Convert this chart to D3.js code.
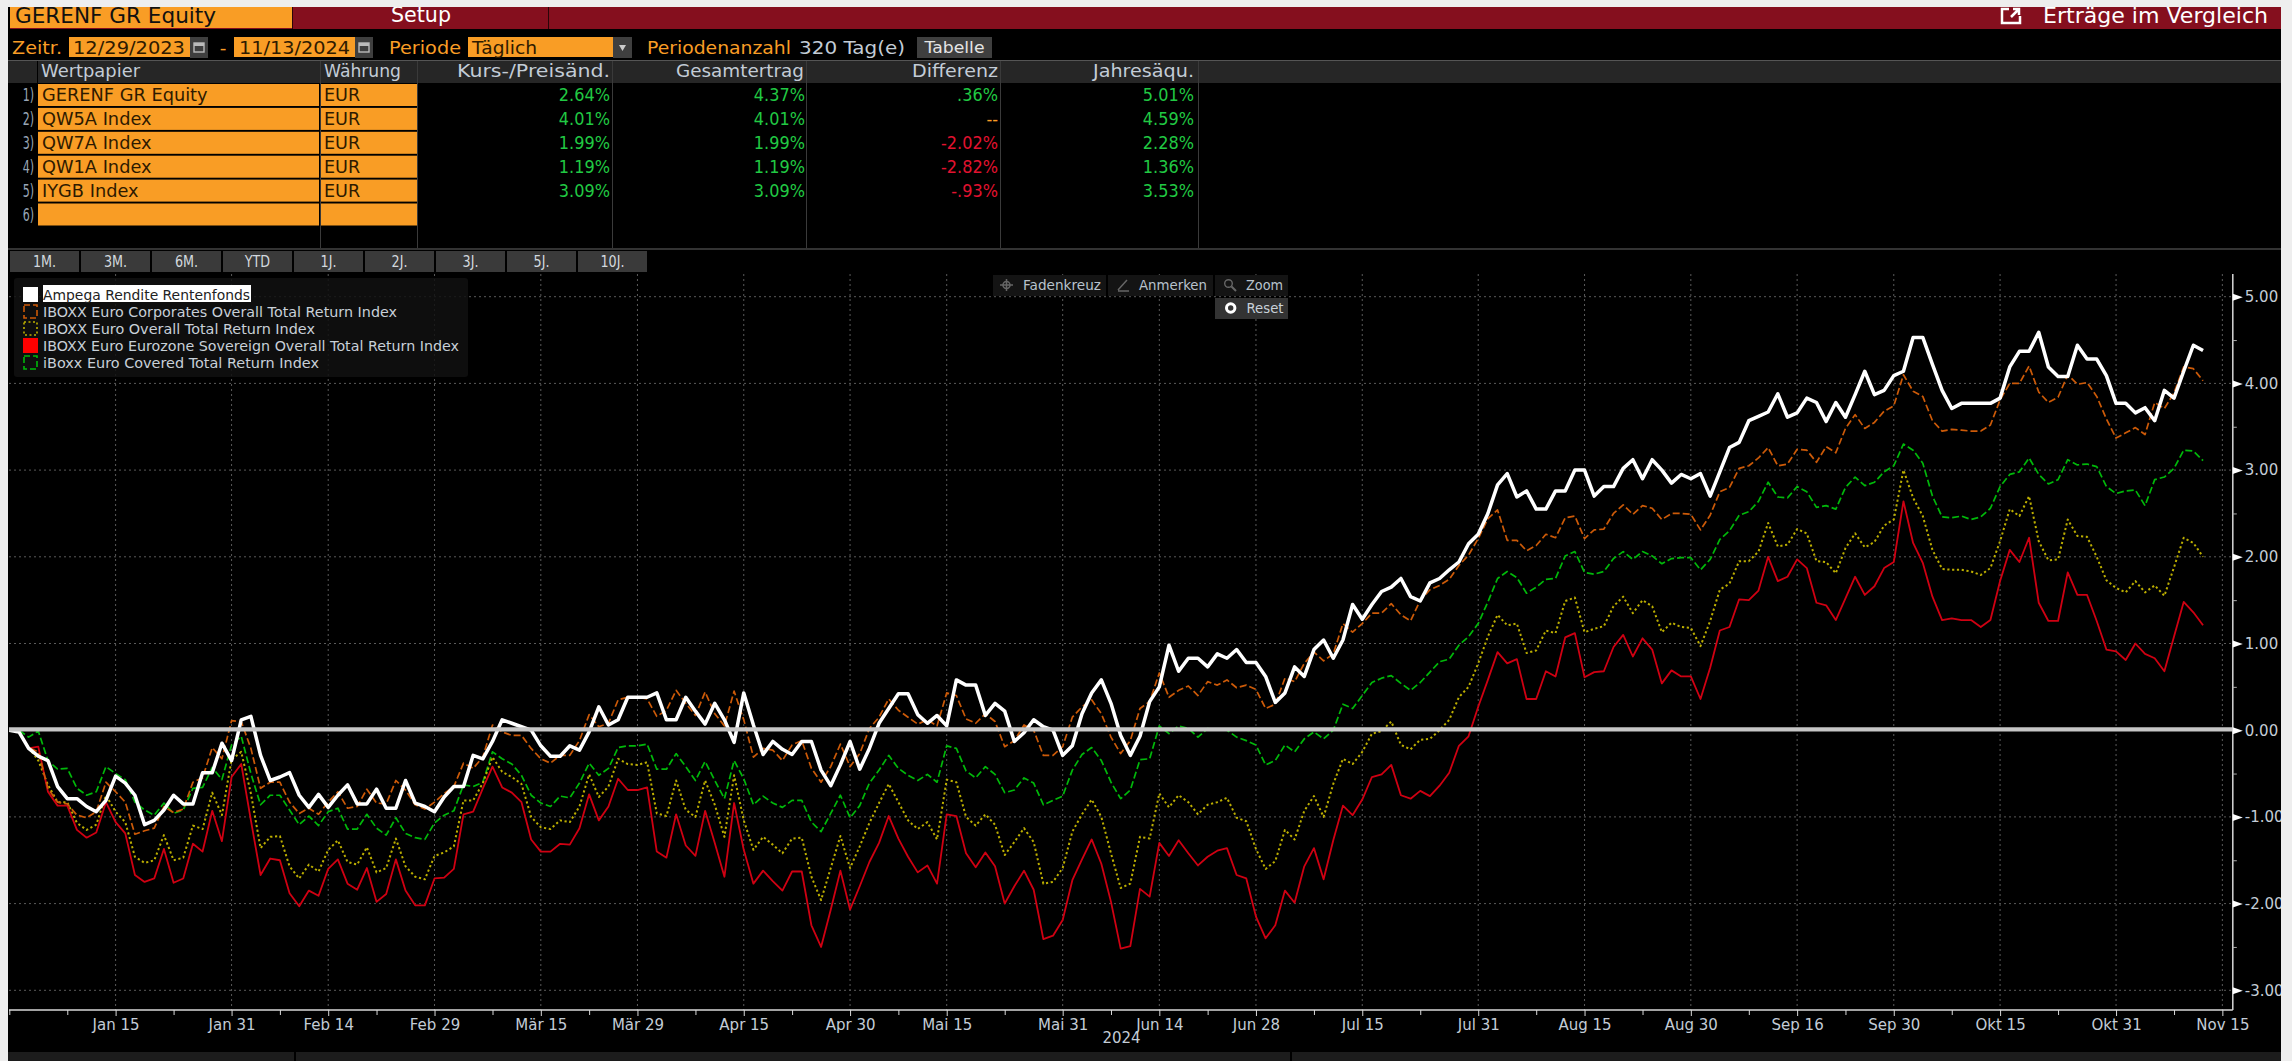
<!DOCTYPE html>
<html>
<head>
<meta charset="utf-8">
<script src="https://d3js.org/d3.v7.min.js"></script>
<style>
  html, body { margin: 0; padding: 0; background: #eeeeee; overflow: hidden; }
  svg { display: block; }
  text { font-family: "DejaVu Sans", sans-serif; }
</style>
</head>
<body>
<svg id="chart" width="2292" height="1061"></svg>
<script>
// daily return series in %, one value per trading day shown on the chart
const fund = [
  0,-.02,-.21,-.30,-.35,-.65,-.79,-.79,-.88,-.94,
  -.81,-.53,-.61,-.75,-1.09,-1.04,-.92,-.75,-.85,-.85,
  -.49,-.49,-.15,-.35,.12,.16,-.29,-.58,-.54,-.49,
  -.75,-.89,-.74,-.89,-.75,-.63,-.85,-.85,-.68,-.90,
  -.90,-.58,-.84,-.88,-.94,-.77,-.65,-.65,-.29,-.33,
  -.13,.12,.08,.04,0,-.18,-.30,-.30,-.18,-.23,
  -.02,.27,.06,.12,.38,.38,.38,.43,.12,.12,
  .38,.22,.07,.31,.12,-.14,.43,.06,-.28,-.13,
  -.22,-.28,-.13,-.13,-.46,-.64,-.40,-.13,-.45,-.21,
  .08,.25,.42,.42,.18,.08,.17,.05,.58,.52,
  .52,.17,.31,.22,-.13,-.03,.12,.04,0,-.29,
  -.18,.19,.43,.58,.31,-.06,-.29,-.07,.33,.50,
  .98,.68,.83,.83,.73,.88,.83,.93,.78,.78,
  .62,.32,.43,.73,.62,.93,1.04,.83,1.04,1.45,
  1.28,1.45,1.60,1.65,1.75,1.54,1.49,1.70,1.75,1.85,
  1.94,2.15,2.26,2.50,2.83,2.96,2.69,2.76,2.55,2.55,
  2.76,2.76,3.00,3.00,2.70,2.81,2.81,3.02,3.12,2.90,
  3.12,3.00,2.85,2.95,2.90,2.96,2.70,2.98,3.26,3.32,
  3.57,3.62,3.67,3.88,3.61,3.66,3.83,3.78,3.56,3.78,
  3.61,3.87,4.14,3.87,3.92,4.09,4.14,4.53,4.53,4.22,
  3.92,3.71,3.77,3.77,3.77,3.77,3.83,4.19,4.37,4.37,
  4.59,4.19,4.08,4.08,4.44,4.28,4.28,4.09,3.77,3.77,
  3.66,3.72,3.57,3.92,3.83,4.14,4.44,4.38
];
const corporates = [
  0,-.02,-.20,-.25,-.67,-.83,-.85,-.98,-1.01,-.94,
  -.60,-.71,-.83,-1.20,-1.16,-1.13,-.88,-.95,-.91,-.60,
  -.55,-.20,-.33,.11,.10,-.21,-.67,-.60,-.60,-.83,
  -.96,-.90,-.97,-.83,-.71,-.90,-.88,-.68,-.84,-.85,
  -.58,-.69,-.86,-.91,-.83,-.73,-.65,-.38,-.44,-.31,
  .06,-.02,-.06,-.06,-.21,-.33,-.38,-.29,-.29,-.12,
  .18,.04,.08,.35,.38,.38,.36,.16,.23,.46,
  .31,.17,.44,.19,.05,.45,.12,-.31,-.21,-.23,
  -.35,-.17,-.12,-.44,-.60,-.42,-.16,-.42,-.27,.02,
  .15,.36,.23,.15,.07,.12,.05,.43,.40,.13,
  .08,.19,.10,-.19,-.12,.06,0,-.29,-.29,-.19,
  .15,.27,.35,.19,-.08,-.27,-.12,.25,.33,.66,
  .38,.46,.51,.40,.56,.52,.58,.49,.52,.47,
  .25,.30,.60,.56,.77,.90,.80,.88,1.23,1.13,
  1.23,1.35,1.35,1.46,1.33,1.26,1.50,1.62,1.67,1.74,
  1.90,2.02,2.21,2.44,2.54,2.19,2.19,2.07,2.13,2.26,
  2.22,2.45,2.47,2.21,2.31,2.32,2.50,2.60,2.49,2.59,
  2.56,2.43,2.50,2.50,2.49,2.31,2.48,2.75,2.80,3.02,
  3.05,3.14,3.26,3.05,3.07,3.24,3.23,3.09,3.27,3.20,
  3.48,3.64,3.48,3.55,3.68,3.74,4.10,3.91,3.85,3.57,
  3.45,3.47,3.46,3.45,3.45,3.52,3.81,4.00,4.00,4.20,
  3.90,3.78,3.84,4.10,3.99,4.01,3.85,3.59,3.37,3.43,
  3.49,3.41,3.78,3.71,3.89,4.19,4.17,4.03
];
const overall = [
  0,-.02,-.20,-.35,-.63,-.83,-.83,-1.07,-1.15,-1.09,
  -.75,-.94,-1.06,-1.46,-1.53,-1.50,-1.21,-1.50,-1.47,-1.10,
  -1.14,-.72,-.98,-.34,-.25,-.73,-1.36,-1.23,-1.22,-1.57,
  -1.71,-1.55,-1.63,-1.38,-1.27,-1.52,-1.55,-1.35,-1.64,-1.59,
  -1.25,-1.57,-1.69,-1.72,-1.45,-1.41,-1.34,-.81,-.81,-.61,
  -.31,-.48,-.54,-.62,-1.00,-1.12,-1.14,-1.04,-1.06,-.88,
  -.51,-.77,-.65,-.33,-.39,-.40,-.37,-.96,-.99,-.58,
  -.92,-1.00,-.58,-.86,-1.23,-.52,-1.04,-1.38,-1.23,-1.32,
  -1.42,-1.25,-1.24,-1.69,-1.96,-1.59,-1.22,-1.59,-1.34,-1.07,
  -.84,-.62,-.83,-1.04,-1.14,-1.06,-1.26,-.57,-.60,-1.00,
  -1.10,-.97,-1.09,-1.44,-1.29,-1.13,-1.29,-1.77,-1.75,-1.59,
  -1.17,-.97,-.80,-1.00,-1.42,-1.82,-1.77,-1.23,-1.25,-.73,
  -.89,-.75,-.83,-.97,-.86,-.83,-.78,-1.01,-1.05,-1.37,
  -1.60,-1.51,-1.15,-1.26,-.93,-.76,-1.00,-.62,-.33,-.39,
  -.25,-.04,-.01,.10,-.17,-.22,-.11,-.10,0,.12,
  .38,.50,.77,1.08,1.33,1.21,1.23,.89,.92,1.15,
  1.12,1.49,1.53,1.13,1.17,1.20,1.43,1.54,1.35,1.50,
  1.43,1.13,1.24,1.19,1.18,.97,1.26,1.62,1.69,1.95,
  1.95,2.06,2.39,2.12,2.14,2.32,2.27,1.95,1.94,1.81,
  2.10,2.27,2.11,2.17,2.36,2.43,3.00,2.68,2.47,2.08,
  1.86,1.85,1.85,1.83,1.79,1.87,2.18,2.55,2.47,2.70,
  2.18,1.96,1.97,2.43,2.24,2.23,2.00,1.73,1.64,1.59,
  1.72,1.59,1.67,1.55,1.88,2.22,2.16,2.00
];
const sovereign = [
  0,-.02,-.21,-.19,-.71,-.87,-.87,-1.15,-1.24,-1.18,
  -.83,-1.06,-1.19,-1.67,-1.75,-1.71,-1.37,-1.76,-1.71,-1.31,
  -1.40,-.93,-1.28,-.54,-.39,-1.04,-1.67,-1.48,-1.50,-1.88,
  -2.03,-1.85,-1.91,-1.60,-1.49,-1.77,-1.84,-1.59,-1.98,-1.89,
  -1.49,-1.85,-2.02,-2.02,-1.71,-1.70,-1.60,-.97,-.94,-.67,
  -.42,-.66,-.72,-.83,-1.26,-1.40,-1.40,-1.31,-1.32,-1.13,
  -.74,-1.04,-.88,-.56,-.69,-.69,-.66,-1.40,-1.47,-.97,
  -1.33,-1.45,-.93,-1.30,-1.69,-.84,-1.38,-1.77,-1.62,-1.74,
  -1.85,-1.63,-1.63,-2.25,-2.50,-2.07,-1.62,-2.07,-1.80,-1.52,
  -1.30,-.99,-1.25,-1.46,-1.64,-1.56,-1.77,-.97,-.99,-1.42,
  -1.58,-1.41,-1.57,-2.00,-1.80,-1.62,-1.84,-2.41,-2.37,-2.19,
  -1.73,-1.49,-1.26,-1.54,-1.98,-2.52,-2.49,-1.83,-1.92,-1.30,
  -1.45,-1.27,-1.42,-1.56,-1.46,-1.39,-1.36,-1.67,-1.71,-2.15,
  -2.40,-2.25,-1.85,-1.99,-1.57,-1.36,-1.72,-1.27,-.87,-.98,
  -.80,-.54,-.51,-.40,-.75,-.79,-.70,-.76,-.64,-.49,
  -.18,-.07,.27,.58,.90,.77,.82,.36,.36,.68,
  .62,1.07,1.12,.61,.67,.68,.96,1.10,.85,1.06,
  .93,.54,.69,.62,.62,.36,.72,1.15,1.19,1.51,
  1.50,1.61,2.00,1.72,1.77,1.97,1.87,1.47,1.44,1.27,
  1.52,1.77,1.56,1.66,1.87,1.94,2.64,2.16,1.93,1.54,
  1.27,1.29,1.27,1.27,1.19,1.27,1.72,2.08,1.94,2.22,
  1.47,1.26,1.26,1.82,1.56,1.56,1.26,.93,.91,.81,
  1.00,.88,.83,.68,1.08,1.48,1.36,1.21
];
const covered = [
  0,0,-.08,-.01,-.35,-.45,-.44,-.67,-.75,-.71,
  -.42,-.50,-.57,-.83,-.92,-.98,-.84,-.96,-.92,-.67,
  -.66,-.43,-.57,-.17,-.07,-.50,-.86,-.75,-.75,-.92,
  -1.09,-.99,-1.10,-.94,-.90,-1.14,-1.14,-.97,-1.13,-1.21,
  -1.01,-1.19,-1.24,-1.26,-1.07,-.98,-.93,-.63,-.65,-.60,
  -.25,-.33,-.39,-.52,-.75,-.84,-.88,-.76,-.78,-.61,
  -.38,-.52,-.44,-.20,-.18,-.18,-.16,-.45,-.45,-.27,
  -.42,-.58,-.36,-.58,-.79,-.35,-.56,-.86,-.76,-.84,
  -.89,-.81,-.81,-1.06,-1.17,-.96,-.75,-1.01,-.87,-.61,
  -.46,-.29,-.44,-.52,-.58,-.51,-.60,-.18,-.21,-.47,
  -.55,-.42,-.51,-.72,-.69,-.55,-.61,-.86,-.81,-.76,
  -.46,-.28,-.20,-.35,-.60,-.79,-.69,-.34,-.33,.05,
  -.04,.05,.02,-.08,.02,0,0,-.08,-.12,-.17,
  -.40,-.35,-.17,-.25,-.10,-.02,-.10,0,.30,.25,
  .40,.55,.60,.63,.54,.46,.55,.67,.79,.82,
  .98,1.08,1.23,1.48,1.75,1.83,1.76,1.58,1.65,1.74,
  1.75,2.01,2.06,1.82,1.80,1.83,1.98,2.06,1.97,2.06,
  2.01,1.92,1.98,1.99,1.99,1.85,1.97,2.20,2.30,2.48,
  2.52,2.64,2.86,2.69,2.68,2.81,2.75,2.57,2.59,2.55,
  2.80,2.92,2.82,2.86,2.98,3.05,3.30,3.23,3.08,2.70,
  2.46,2.45,2.47,2.43,2.46,2.56,2.81,2.95,2.98,3.14,
  2.95,2.84,2.89,3.12,3.06,3.07,3.04,2.81,2.73,2.76,
  2.77,2.59,2.89,2.92,3.02,3.23,3.22,3.11
];

const seriesNames = [
  'Ampega Rendite Rentenfonds',
  'IBOXX Euro Corporates Overall Total Return Index',
  'IBOXX Euro Overall Total Return Index',
  'IBOXX Euro Eurozone Sovereign Overall Total Return Index',
  'iBoxx Euro Covered Total Return Index'
];
const dateLabels = ['Jan 15','Jan 31','Feb 14','Feb 29','Mär 15','Mär 29','Apr 15','Apr 30','Mai 15','Mai 31','Jun 14','Jun 28','Jul 15','Jul 31','Aug 15','Aug 30','Sep 16','Sep 30','Okt 15','Okt 31','Nov 15'];
const dateIndex = [11,23,33,44,55,65,76,87,97,109,119,129,140,152,163,174,185,195,206,218,229];
const minorIndex = [6,17,28,38,50,60,71,81,92,103,114,124,135,146,158,169,180,190,201,212,224];
const valueTicks = [5,4,3,2,1,0,-1,-2,-3];
const minorValueTicks = [4.5,3.5,2.5,1.5,.5,-.5,-1.5,-2.5];

const securities = ['GERENF GR Equity','QW5A Index','QW7A Index','QW1A Index','IYGB Index',''];
const currencies = ['EUR','EUR','EUR','EUR','EUR',''];
const priceChange = ['2.64%','4.01%','1.99%','1.19%','3.09%'];
const totalReturn = ['4.37%','4.01%','1.99%','1.19%','3.09%'];
const difference = ['.36%','--','-2.02%','-2.82%','-.93%'];
const annualized = ['5.01%','4.59%','2.28%','1.36%','3.53%'];
const rangeButtons = ['1M.','3M.','6M.','YTD','1J.','2J.','3J.','5J.','10J.'];

const ORANGE = '#f99d25', INK = '#2e1a00', SOFT = '#c3ccd6', GREEN = '#21c943', RED = '#e2122f';

const svg = d3.select('#chart');

// fit > 1 is a width in px, fit <= 1 narrows the text by that ratio
const label = (parent, x, y, str, size, fill, anchor = 'start', fit = null) => {
    const t = parent.append('text')
        .attr('x', x).attr('y', y)
        .attr('font-size', size).attr('fill', fill)
        .attr('text-anchor', anchor)
        .text(str);
    if (fit && str) {
        const w = fit > 1 ? fit : t.node().getComputedTextLength() * fit;
        t.attr('textLength', w).attr('lengthAdjust', 'spacingAndGlyphs');
    }
    return t;
};
const box = (parent, x0, y0, x1, y1, fill) => parent.append('rect')
    .attr('x', x0).attr('y', y0).attr('width', x1 - x0).attr('height', y1 - y0).attr('fill', fill);

// panel
box(svg, 8, 7, 2281, 1061, '#000');

// title bar
const bar = svg.append('g');
box(bar, 10, 7, 2281, 29, '#850f1e');
box(bar, 10, 7, 292, 28, ORANGE);
box(bar, 292, 7, 293, 29, '#2a0508');
box(bar, 548, 7, 549, 29, '#2a0508');
label(bar, 15, 23, 'GERENF GR Equity', 21.5, '#111', 'start', 201);
label(bar, 421, 22, 'Setup', 21.5, '#fff', 'middle', 60);
label(bar, 2043, 23, 'Erträge im Vergleich', 22, '#fff', 'start', 225);
bar.append('path')
    .attr('d', 'M2009 9H2002V23H2020V16M2011 17L2019 9M2013 9H2019V15')
    .attr('fill', 'none').attr('stroke', '#fff').attr('stroke-width', 2.5);

// date range row
const row = svg.append('g');
const calendar = x => {
    box(row, x, 37, x + 18, 58, '#3f3f3f');
    row.append('rect').attr('x', x + 4).attr('y', 43).attr('width', 10).attr('height', 9)
        .attr('fill', 'none').attr('stroke', '#bbb').attr('stroke-width', 1.4);
    box(row, x + 4, 43, x + 14, 46, '#bbb');
};
label(row, 12, 54, 'Zeitr.', 18.5, ORANGE, 'start', 50);
box(row, 69, 37, 190, 57, ORANGE);
label(row, 73, 54, '12/29/2023', 18.5, INK, 'start', 112);
calendar(190);
label(row, 223, 54, '-', 18.5, ORANGE, 'middle');
box(row, 234, 37, 355, 57, ORANGE);
label(row, 239, 54, '11/13/2024', 18.5, INK, 'start', 111);
calendar(355);
label(row, 389, 54, 'Periode', 18.5, ORANGE, 'start', 72);
box(row, 468, 37, 613, 57, ORANGE);
label(row, 472, 54, 'Täglich', 18.5, INK, 'start', 65);
box(row, 613, 37, 632, 58, '#3f3f3f');
row.append('path').attr('d', 'M619 45H626L622.5 51Z').attr('fill', '#ccc');
label(row, 647, 54, 'Periodenanzahl', 18.5, ORANGE, 'start', 144);
label(row, 799, 54, '320 Tag(e)', 18.5, SOFT, 'start', 106);
box(row, 917, 37, 992, 58, '#3f3f3f');
label(row, 954.5, 53, 'Tabelle', 16, '#e4e4e4', 'middle', 60);

// table
const table = svg.append('g');
box(table, 8, 60, 2281, 83, '#262626');
box(table, 8, 60, 2281, 61, '#555');
box(table, 37, 61, 38, 83, '#000');
[320, 417, 612, 806, 1000, 1198].forEach(x => box(table, x, 61, x + 1, 248, '#3a3a3a'));
box(table, 8, 248, 2281, 250, '#333');
label(table, 41, 77, 'Wertpapier', 18.5, SOFT, 'start', 99);
label(table, 324, 77, 'Währung', 18.5, SOFT, 'start', 77);
label(table, 610, 77, 'Kurs-/Preisänd.', 18.5, SOFT, 'end', 153);
label(table, 804, 77, 'Gesamtertrag', 18.5, SOFT, 'end', 128);
label(table, 998, 77, 'Differenz', 18.5, SOFT, 'end', 86);
label(table, 1194, 77, 'Jahresäqu.', 18.5, SOFT, 'end', 101);

const rowY = i => 84 + i * 23.9;
securities.forEach((s, i) => {
    box(table, 38, rowY(i), 319, rowY(i) + 22, ORANGE);
    box(table, 321, rowY(i), 417, rowY(i) + 22, ORANGE);
    label(table, 34, rowY(i) + 17, `${i + 1})`, 17, '#98a6b6', 'end', .65);
    label(table, 42, rowY(i) + 17, s, 18.5, INK, 'start', .96);
    label(table, 324, rowY(i) + 17, currencies[i], 18.5, INK, 'start', .95);
});
const colorFor = v => v === '--' ? ORANGE : v.startsWith('-') ? RED : GREEN;
[[priceChange, 610, GREEN], [totalReturn, 805, GREEN], [difference, 998, null], [annualized, 1194, GREEN]].forEach(([col, x, fill]) => {
    col.forEach((v, i) => label(table, x, rowY(i) + 17, v, 18.5, fill || colorFor(v), 'end', .87));
});

// range buttons
rangeButtons.forEach((b, i) => {
    box(svg, 10 + i * 71, 251, 79 + i * 71, 272, '#3a3a3a');
    label(svg, 44.5 + i * 71, 267, b, 15, '#d2d8de', 'middle', .85);
});

// plot
const x = d3.scaleLinear().domain([0, 227]).range([9.3, 9.3 + 227 * 9.664]);
const y = d3.scaleLinear().domain([5, -3]).range([296.7, 990.3]);
const plotTop = 274, plotBottom = 1010, plotRight = 2232.8;

const grid = svg.append('g').attr('stroke', '#5a5a5a').attr('stroke-dasharray', '2,3').attr('stroke-width', 1);
grid.selectAll('.h').data(valueTicks.filter(d => d !== 0)).enter().append('line')
    .attr('x1', 9).attr('x2', plotRight)
    .attr('y1', d => y(d)).attr('y2', d => y(d));
grid.selectAll('.v').data(dateIndex).enter().append('line')
    .attr('y1', plotTop).attr('y2', plotBottom)
    .attr('x1', d => x(d)).attr('x2', d => x(d));

const line = d3.line().x((d, i) => x(i)).y(d => y(d));
const styles = [
    { data: covered, stroke: '#00b80a', width: 1.7, dash: '7,3' },
    { data: overall, stroke: '#bcae00', width: 2, dash: '2.2,2.6' },
    { data: sovereign, stroke: '#cf0012', width: 1.8, dash: null },
    { data: corporates, stroke: '#cc5a08', width: 1.7, dash: '7,3' },
    { data: fund, stroke: '#ffffff', width: 3.5, dash: null }
];
svg.selectAll('.series').data(styles).enter().append('path')
    .attr('class', 'series')
    .attr('fill', 'none')
    .attr('stroke-linejoin', 'round')
    .attr('stroke', d => d.stroke)
    .attr('stroke-width', d => d.width)
    .attr('stroke-dasharray', d => d.dash)
    .attr('d', d => line(d.data));

// zero line on top of the series
svg.append('line')
    .attr('x1', 9).attr('x2', plotRight)
    .attr('y1', y(0) - .8).attr('y2', y(0) - .8)
    .attr('stroke', '#c6c6c6').attr('stroke-width', 4.2);

// x axis
const xAxis = svg.append('g')
    .attr('transform', `translate(0,${plotBottom})`)
    .call(d3.axisBottom(x).tickValues(dateIndex).tickFormat((d, i) => dateLabels[i]).tickSize(6).tickPadding(3).tickSizeOuter(0));
xAxis.select('.domain').attr('stroke', '#d8d8d8').attr('stroke-width', 1.5).attr('d', `M9,0H${plotRight}`);
xAxis.selectAll('.tick line').attr('stroke', '#d8d8d8');
xAxis.selectAll('text').attr('font-size', 15).attr('font-family', '"DejaVu Sans", sans-serif').attr('fill', SOFT);
const xMinor = svg.append('g')
    .attr('transform', `translate(0,${plotBottom})`)
    .call(d3.axisBottom(x).tickValues([0, ...minorIndex]).tickFormat('').tickSize(5).tickSizeOuter(0));
xMinor.select('.domain').remove();
xMinor.selectAll('.tick line').attr('stroke', '#d8d8d8');
label(svg, 1121.5, 1043, '2024', 15, SOFT, 'middle');

// y axis
const yAxis = svg.append('g')
    .attr('transform', `translate(${plotRight},0)`)
    .call(d3.axisRight(y).tickValues(valueTicks).tickFormat(d => d.toFixed(2)).tickSize(0).tickPadding(12).tickSizeOuter(0));
yAxis.select('.domain').attr('stroke', '#d8d8d8').attr('stroke-width', 1.5).attr('d', `M0,${plotTop}V${plotBottom}`);
yAxis.selectAll('text').attr('font-size', 15).attr('font-family', '"DejaVu Sans", sans-serif').attr('fill', SOFT);
yAxis.selectAll('.tick').append('path').attr('d', 'M0,-3.5L10,0L0,3.5Z').attr('fill', '#fff');
const yMinor = svg.append('g')
    .attr('transform', `translate(${plotRight},0)`)
    .call(d3.axisRight(y).tickValues(minorValueTicks).tickFormat('').tickSize(4).tickSizeOuter(0));
yMinor.select('.domain').remove();
yMinor.selectAll('.tick line').attr('stroke', '#aaa');

// legend
const legend = svg.append('g');
legend.append('rect').attr('x', 14).attr('y', 278).attr('width', 454).attr('height', 99).attr('rx', 3)
    .attr('fill', '#111').attr('fill-opacity', .85);
const swatches = [
    { fill: '#fff' },
    { stroke: '#cc5a08', dash: '6,3' },
    { stroke: '#bcae00', dash: '2,2.5' },
    { fill: '#ff0000' },
    { stroke: '#00b80a', dash: '6,3' }
];
const legendWidths = [207, 354, 272, 416, 276];
box(legend, 43, 285, 251, 302, '#fff');
seriesNames.forEach((name, i) => {
    const cy = 295 + i * 17;
    const sw = swatches[i];
    legend.append('rect').attr('x', sw.fill ? 23 : 24).attr('y', cy - (sw.fill ? 8 : 7))
        .attr('width', sw.fill ? 15 : 13).attr('height', sw.fill ? 15 : 13)
        .attr('fill', sw.fill || 'none')
        .attr('stroke', sw.stroke || 'none')
        .attr('stroke-width', 1.6)
        .attr('stroke-dasharray', sw.dash || null);
    label(legend, 43, cy + 5, name, 14, i === 0 ? '#222' : '#c8d0d8', 'start', legendWidths[i]);
});

// chart toolbar
const tools = svg.append('g');
box(tools, 993, 275, 1106, 296, '#141414');
box(tools, 1108, 275, 1213, 296, '#141414');
box(tools, 1215, 275, 1288, 296, '#141414');
box(tools, 1215, 298, 1288, 319, '#333');
label(tools, 1023, 290, 'Fadenkreuz', 14, '#b8c2cc', 'start', 78);
label(tools, 1139, 290, 'Anmerken', 14, '#b8c2cc', 'start', 68);
label(tools, 1246, 290, 'Zoom', 14, '#b8c2cc', 'start', 37);
label(tools, 1246.5, 313, 'Reset', 14, '#c8d0d8', 'start', 37);
tools.append('path').attr('d', 'M1000 285H1013M1006.5 279V291').attr('stroke', '#666').attr('stroke-width', 1.5);
tools.append('circle').attr('cx', 1006.5).attr('cy', 285).attr('r', 3.5).attr('fill', 'none').attr('stroke', '#666').attr('stroke-width', 1.5);
tools.append('path').attr('d', 'M1118 291H1129M1118 290L1127 280').attr('stroke', '#666').attr('stroke-width', 1.5).attr('fill', 'none');
tools.append('circle').attr('cx', 1228.5).attr('cy', 283.5).attr('r', 3.8).attr('fill', 'none').attr('stroke', '#666').attr('stroke-width', 1.4);
tools.append('path').attr('d', 'M1231.5 286.5L1236 291').attr('stroke', '#666').attr('stroke-width', 2);
tools.append('circle').attr('cx', 1230.7).attr('cy', 308).attr('r', 4.2).attr('fill', '#333').attr('stroke', '#fff').attr('stroke-width', 3);

// bottom bar and page margin, drawn last so the axis labels clip at the edge
box(svg, 8, 1052, 2281, 1061, '#1c1c1c');
box(svg, 294, 1052, 296, 1061, '#000');
box(svg, 1290, 1052, 1292, 1061, '#000');
box(svg, 2281, 0, 2292, 1061, '#eeeeee');
box(svg, 0, 0, 2292, 7, '#eeeeee');
box(svg, 0, 0, 8, 1061, '#eeeeee');
</script>
</body>
</html>
